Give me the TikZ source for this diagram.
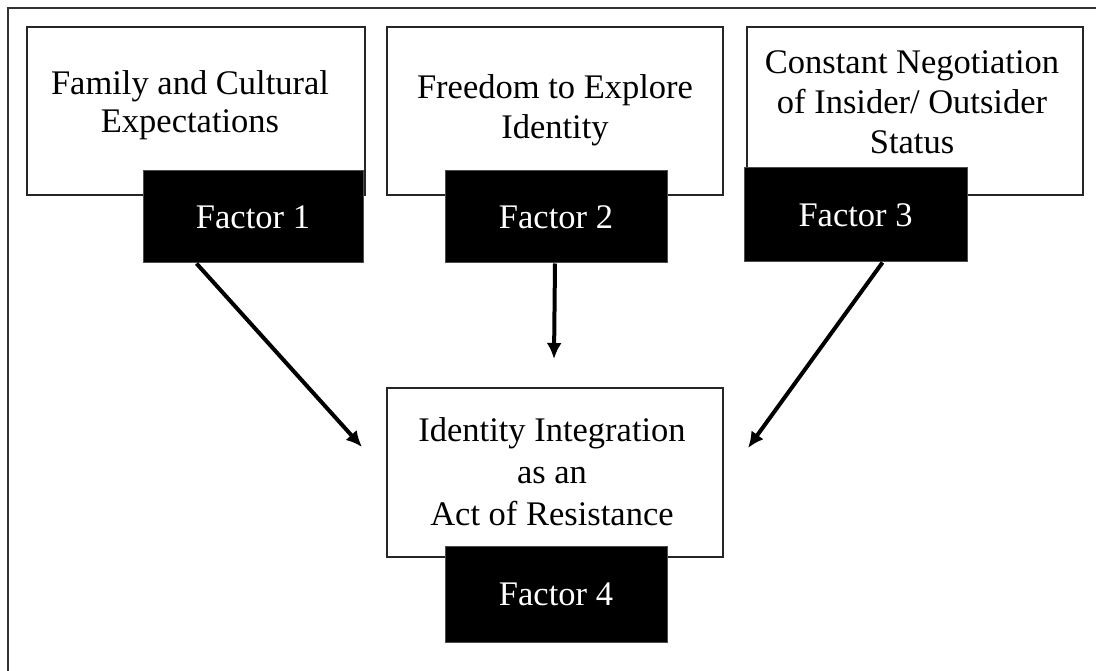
\documentclass[tikz,border=0pt]{standalone}
\usepackage{fontspec}
\setmainfont{Liberation Serif}
\usetikzlibrary{arrows.meta}
\begin{document}
\begin{tikzpicture}[x=1pt,y=-1pt,
  wbox/.style={draw=black!85,line width=2pt,fill=white,minimum width=#1,inner sep=0pt},
  bbox/.style={fill=black,draw=black!70,line width=1pt,text=white,inner sep=0pt,font=\fontsize{34.5}{40}\selectfont},
  txt/.style={align=center,inner sep=0pt,font=\fontsize{34.5}{40}\selectfont},
  arr/.style={line width=4pt,-{Latex[length=16pt,width=15pt]}}]
\useasboundingbox (0,0) rectangle (1096,671);
\fill[white] (0,0) rectangle (1096,671);
\draw[line width=2.2pt,black!80] (1096,8) -- (8,8) -- (8,671);
% white boxes
\node[wbox=338pt,minimum height=168pt] (B1) at (196,111) {};
\node[wbox=336pt,minimum height=168pt] (B2) at (555,111) {};
\node[wbox=336pt,minimum height=168pt] (B3) at (915,111) {};
\node[wbox=336pt,minimum height=169pt] (B4) at (555,472.5) {};
% texts
\node[txt,font=\fontsize{34.5}{38}\selectfont] (T1) at (190,105) {Family and Cultural\\Expectations};
\node[txt] (T2) at (555,110) {Freedom to Explore\\Identity};
\node[txt] (T3) at (912,102) {Constant Negotiation\\of Insider/ Outsider\\Status};
\node[txt,font=\fontsize{34.5}{42}\selectfont] (T4) at (552,472) {Identity Integration\\as an\\ Act of Resistance};
% black boxes
\node[bbox,minimum width=220pt,minimum height=92pt] (F1) at (253,217) {Factor 1};
\node[bbox,minimum width=222pt,minimum height=92pt] (F2) at (556,217) {Factor 2};
\node[bbox,minimum width=223pt,minimum height=94pt] (F3) at (855.5,215) {Factor 3};
\node[bbox,minimum width=222pt,minimum height=96pt] (F4) at (556,594) {Factor 4};
% arrows
\coordinate (E1) at (362,447);
\coordinate (E3) at (748,448);
\draw[arr] ([xshift=54pt]F1.south west) -- (E1);
\draw[arr] ([xshift=-1pt]F2.south) -- ([xshift=-1pt,yshift=28pt]B4.north);
\draw[arr] ([xshift=-85pt]F3.south east) -- (E3);
\end{tikzpicture}
\end{document}
